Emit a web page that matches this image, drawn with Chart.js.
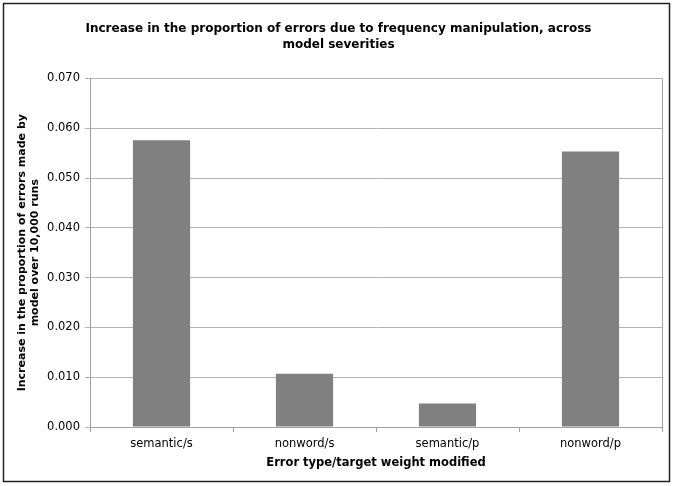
<!DOCTYPE html>
<html>
<head>
<meta charset="utf-8">
<script src="https://cdn.jsdelivr.net/npm/chart.js@4/dist/chart.umd.min.js"></script>
<style>
    body { margin: 0; background: #fff; }
    #wrap { width: 674px; height: 486px; }
</style>
</head>
<body>
<div id="wrap"><canvas id="barChart" width="674" height="486"></canvas></div>
<script>
// data
const categories = ['semantic/s', 'nonword/s', 'semantic/p', 'nonword/p'];
const increaseValues = [0.0576, 0.0107, 0.0047, 0.0553];
const yTicks = [0, 0.01, 0.02, 0.03, 0.04, 0.05, 0.06, 0.07];

const chartTitle = ['Increase in the proportion of errors due to frequency manipulation, across', 'model severities'];
const yTitle = ['Increase in the proportion of errors made by', 'model over 10,000 runs'];
const xTitle = 'Error type/target weight modified';

const FONT = "'DejaVu Sans', Verdana, sans-serif";

// outer frame + right edge of the plot area
const framePlugin = {
    id: 'frame',
    afterDraw(chart) {
        const ctx = chart.ctx;
        const a = chart.chartArea;
        ctx.save();
        ctx.strokeStyle = '#a0a0a0';
        ctx.lineWidth = 1;
        ctx.beginPath();
        ctx.moveTo(Math.round(a.right) + 0.5, a.top);
        ctx.lineTo(Math.round(a.right) + 0.5, a.bottom);
        ctx.stroke();
        ctx.strokeStyle = '#222';
        ctx.lineWidth = 1.5;
        ctx.strokeRect(3.5, 3.5, 666, 478);
        ctx.restore();
    }
};

const ctx = document.getElementById('barChart').getContext('2d');
new Chart(ctx, {
    type: 'bar',
    data: {
        labels: categories,
        datasets: [{
            data: increaseValues,
            backgroundColor: '#808080',
            borderWidth: 0,
            barPercentage: 0.4,
            categoryPercentage: 1.0
        }]
    },
    options: {
        responsive: false,
        animation: false,
        layout: { padding: { left: 15, right: 12, top: 0, bottom: 16 } },
        plugins: {
            legend: { display: false },
            tooltip: { enabled: false },
            title: {
                display: true,
                text: chartTitle,
                color: '#000',
                font: { family: FONT, size: 12, weight: 'bold', lineHeight: 1.35 },
                padding: { top: 21, bottom: 25 }
            }
        },
        scales: {
            x: {
                grid: { offset: true, drawOnChartArea: false, drawTicks: true, tickLength: 5, color: '#a0a0a0' },
                border: { color: '#a0a0a0' },
                ticks: { color: '#000', font: { family: FONT, size: 11.5 }, padding: 5 },
                title: { display: true, text: xTitle, color: '#000', font: { family: FONT, size: 11.5, weight: 'bold' }, padding: { top: 2, bottom: 0 } },
                afterFit: (s) => { s.height = 43; }
            },
            y: {
                min: 0,
                max: 0.07,
                afterBuildTicks: (s) => { s.ticks = yTicks.map(v => ({ value: v })); },
                grid: { color: '#b4b4b4', tickLength: 5 },
                border: { color: '#a0a0a0' },
                ticks: {
                    color: '#000',
                    font: { family: FONT, size: 11.5 },
                    padding: 5,
                    callback: (v) => v.toFixed(3)
                },
                title: { display: true, text: yTitle, color: '#000', font: { family: FONT, size: 11, weight: 'bold', lineHeight: 1.25 }, padding: { top: 0, bottom: 8 } },
                afterFit: (s) => { s.width = 75; }
            }
        }
    },
    plugins: [framePlugin]
});
</script>
</body>
</html>
